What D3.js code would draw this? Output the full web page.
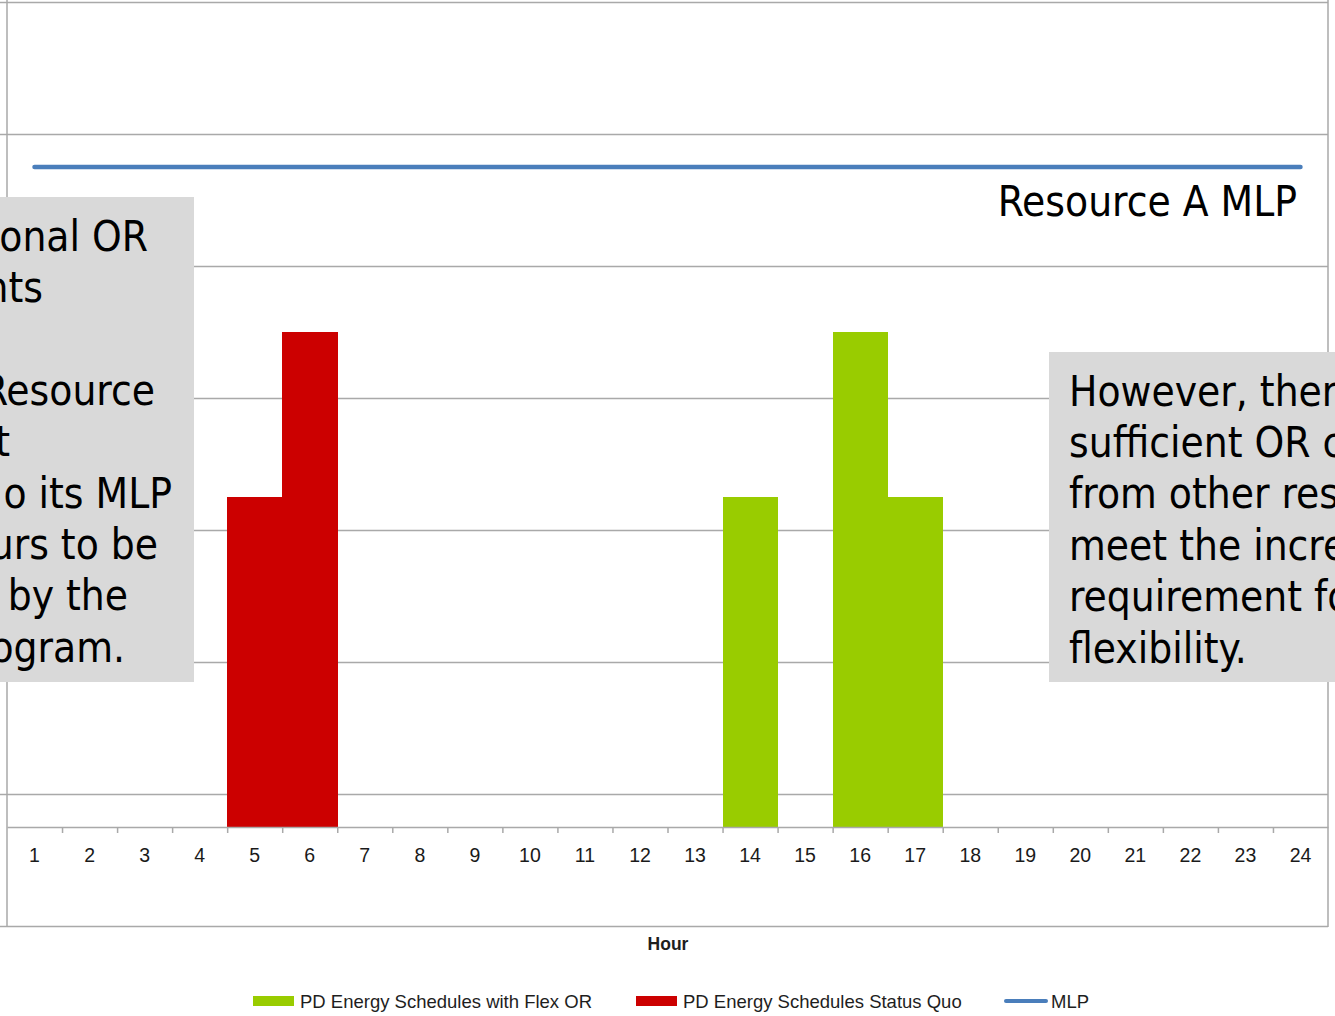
<!DOCTYPE html>
<html lang="en">
<head>
    <meta charset="UTF-8">
    <title>Resource A MLP - PD Energy Schedules</title>
    <script src="https://d3js.org/d3.v7.min.js"></script>
    <style>
        body {
            margin: 0;
            padding: 0;
            background-color: white;
            overflow: hidden;
        }
        svg {
            display: block;
        }
        .tick-label {
            font-family: 'Liberation Sans', Arial, sans-serif;
            font-size: 19.5px;
            fill: #1a1a1a;
        }
        .note {
            font-family: 'DejaVu Sans Condensed', 'DejaVu Sans', sans-serif;
            font-stretch: condensed;
            font-size: 42px;
            fill: black;
        }
        .legend-text {
            font-family: 'Liberation Sans', Arial, sans-serif;
            font-size: 18.5px;
            fill: #1e1e1e;
        }
    </style>
</head>
<body>
    <svg width="1335" height="1016"></svg>

    <script>
        // chart data
        const hours = ["1", "2", "3", "4", "5", "6", "7", "8", "9", "10", "11", "12",
                       "13", "14", "15", "16", "17", "18", "19", "20", "21", "22", "23", "24"];
        const flexOR = [0, 0, 0, 0, 0, 0, 0, 0, 0, 0, 0, 0,
                        0, 100, 0, 150, 100, 0, 0, 0, 0, 0, 0, 0];
        const statusQuo = [0, 0, 0, 0, 100, 150, 0, 0, 0, 0, 0, 0,
                           0, 0, 0, 0, 0, 0, 0, 0, 0, 0, 0, 0];
        const mlp = [200, 200, 200, 200, 200, 200, 200, 200, 200, 200, 200, 200,
                     200, 200, 200, 200, 200, 200, 200, 200, 200, 200, 200, 200];
        const yTicks = [-30, 10, 50, 90, 130, 170, 210, 250];

        const seriesNames = ["PD Energy Schedules with Flex OR", "PD Energy Schedules Status Quo", "MLP"];
        const colors = ["#99cc00", "#cc0000", "#4a7ebb"];

        // text boxes laid over the chart (cut off by the slide edge)
        const leftNote = ["onal OR", "nts", "", "Resource", "t", "o its MLP", "urs to be", " by the", "ogram."];
        const leftNoteEnds = [148, 43, 0, 155, 10, 172, 158, 128, 125];
        const rightNote = ["However, there", "sufficient OR c", "from other res", "meet the incre", "requirement fo", "flexibility."];

        const svg = d3.select("svg");
        const plot = {left: 7, right: 1328, top: 2, bottom: 926};

        const x = d3.scaleBand().domain(hours).range([plot.left, plot.right]).padding(0);
        const xEdge = d3.scaleLinear().domain([0, hours.length]).range([plot.left, plot.right]);
        const y = d3.scaleLinear().domain([yTicks[0], yTicks[yTicks.length - 1]]).range([plot.bottom, plot.top]);

        const gridColor = "#a9a9a9";

        // gridlines
        const grid = svg.append("g")
            .attr("transform", `translate(${plot.left},0)`)
            .call(d3.axisLeft(y).tickValues(yTicks).tickSize(-(plot.right - plot.left)).tickFormat(""));
        grid.select(".domain").remove();
        grid.selectAll("line").attr("stroke", gridColor).attr("stroke-width", 1.5);

        // small ticks left of the value axis
        const yAxis = svg.append("g")
            .attr("transform", `translate(${plot.left},0)`)
            .call(d3.axisLeft(y).tickValues(yTicks).tickSize(7).tickFormat(""));
        yAxis.select(".domain").remove();
        yAxis.selectAll("line").attr("stroke", gridColor).attr("stroke-width", 1.5);

        // plot frame: left axis line and right border
        svg.append("line")
            .attr("x1", plot.left).attr("x2", plot.left)
            .attr("y1", 0).attr("y2", plot.bottom)
            .attr("stroke", gridColor).attr("stroke-width", 1.5);
        svg.append("line")
            .attr("x1", plot.right).attr("x2", plot.right)
            .attr("y1", 0).attr("y2", plot.bottom + 1)
            .attr("stroke", gridColor).attr("stroke-width", 1.5);

        // bars
        const bars = svg.append("g").attr("shape-rendering", "crispEdges");
        [flexOR, statusQuo].forEach((vals, si) => {
            bars.selectAll(".s" + si)
                .data(hours.map((h, i) => ({h: h, v: vals[i]})).filter(d => d.v > 0))
                .enter().append("rect")
                .attr("class", "s" + si)
                .attr("x", d => x(d.h))
                .attr("width", x.bandwidth() + 0.5)
                .attr("y", d => y(d.v))
                .attr("height", d => y(0) - y(d.v))
                .attr("fill", colors[si]);
        });

        // category axis
        const xAxis = svg.append("g")
            .attr("transform", `translate(0,${y(0)})`)
            .call(d3.axisBottom(x).tickSize(0).tickPadding(35));
        xAxis.select(".domain").attr("stroke", gridColor).attr("stroke-width", 1.5);
        xAxis.selectAll("text").attr("class", "tick-label").attr("dy", 0);

        const xTicks = svg.append("g")
            .attr("transform", `translate(0,${y(0)})`)
            .call(d3.axisBottom(xEdge).tickValues(d3.range(1, hours.length)).tickSize(6).tickFormat(""));
        xTicks.select(".domain").remove();
        xTicks.selectAll("line").attr("stroke", gridColor).attr("stroke-width", 1.5);

        // MLP line
        const line = d3.line()
            .x((d, i) => x(hours[i]) + x.bandwidth() / 2)
            .y(d => y(d));
        svg.append("path")
            .datum(mlp)
            .attr("d", line)
            .attr("fill", "none")
            .attr("stroke", colors[2])
            .attr("stroke-width", 4.5)
            .attr("stroke-linecap", "round");

        // axis title
        svg.append("text")
            .attr("x", 668).attr("y", 950)
            .attr("text-anchor", "middle")
            .style("font-family", "'Liberation Sans', Arial, sans-serif")
            .style("font-size", "17.5px")
            .style("font-weight", "bold")
            .style("fill", "#1e1e1e")
            .text("Hour");

        // legend
        const legend = svg.append("g");
        const legendX = [253, 636, 1004];
        seriesNames.forEach((name, i) => {
            const g = legend.append("g").attr("transform", `translate(${legendX[i]},1001)`);
            if (i < 2) {
                g.append("rect").attr("x", 0).attr("y", -5).attr("width", 41).attr("height", 10).attr("fill", colors[i]);
            } else {
                g.append("line").attr("x1", 2).attr("x2", 42).attr("y1", 0).attr("y2", 0)
                    .attr("stroke", colors[i]).attr("stroke-width", 4).attr("stroke-linecap", "round");
            }
            g.append("text").attr("class", "legend-text").attr("x", 47).attr("y", 7).text(name);
        });

        // MLP label
        svg.append("text")
            .attr("class", "note")
            .attr("x", 1297).attr("y", 216)
            .attr("text-anchor", "end")
            .text("Resource A MLP");

        // left note box
        svg.append("rect")
            .attr("x", 0).attr("y", 197).attr("width", 194).attr("height", 485)
            .attr("fill", "#d9d9d9");
        svg.append("g").selectAll("text")
            .data(leftNote)
            .enter().append("text")
            .attr("class", "note")
            .attr("x", (d, i) => leftNoteEnds[i])
            .attr("y", (d, i) => 250.5 + i * 51.4)
            .attr("text-anchor", "end")
            .style("white-space", "pre")
            .text(d => d);

        // right note box
        svg.append("rect")
            .attr("x", 1049).attr("y", 352).attr("width", 300).attr("height", 330)
            .attr("fill", "#d9d9d9");
        svg.append("g").selectAll("text")
            .data(rightNote)
            .enter().append("text")
            .attr("class", "note")
            .attr("x", 1069)
            .attr("y", (d, i) => 405.5 + i * 51.4)
            .text(d => d);
    </script>
</body>
</html>
